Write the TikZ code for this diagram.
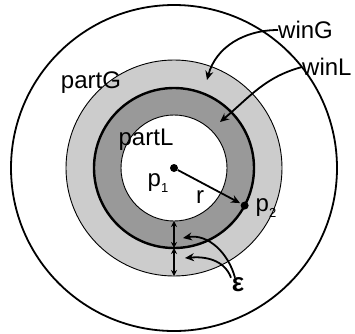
\documentclass[tikz,border=0pt]{standalone}
\usepackage{fontspec}
\setmainfont{Liberation Sans}
\usetikzlibrary{arrows.meta}
\definecolor{winGgray}{RGB}{204,204,204}
\definecolor{winLgray}{RGB}{153,153,153}
\tikzset{%
  lbl/.style={inner sep=0pt, font=\fontsize{24}{28}\selectfont},
  pt/.style={circle, fill=black, inner sep=0pt, minimum size=8pt},
  pointer/.style={-{Stealth[length=9pt,width=8pt]}, line width=1.8pt},
  epsarrow/.style={{Stealth[length=6pt,width=6pt]}-{Stealth[length=6pt,width=6pt]}, line width=1.6pt},
}

\begin{document}
\begin{tikzpicture}[x=1pt, y=1pt]
\useasboundingbox (-174,-165) rectangle (181,168);

% Outer circle
\draw[line width=1.8pt] (0,0) circle (163);

% Window of the global partition
\filldraw[fill=winGgray, draw=black, line width=0.9pt] (0,0) circle (108);

% Window of the local partition, thick border
\filldraw[fill=winLgray, draw=black, line width=2.4pt] (0,0) circle (80);

% Local partition
\filldraw[fill=white, draw=black, line width=0.9pt] (0,0) circle (53);

% Points and radius
\node[pt] (P1) at (0,0) {};
\node[pt] (P2) at (-28:80) {};
\draw[pointer, shorten >=1pt] (P1) -- (P2);

% Labels
\node[lbl] (partG) at (-83,85) {partG};
\node[lbl] (partL) at (-28,28) {partL};
\node[lbl] (p1) at (-16,-15) {p\raisebox{-6pt}{\fontsize{13}{14}\selectfont 1}};
\node[lbl] (r) at (26,-29) {r};
\node[lbl] (p2) at (92,-40) {p\raisebox{-6pt}{\fontsize{13}{14}\selectfont 2}};
\node[lbl, font=\fontsize{26}{28}\selectfont\bfseries] (eps) at (64,-117) {ε};
\node[lbl, anchor=west] (winG) at (104,138) {winG};
\node[lbl, anchor=west] (winL) at (128,101) {winL};

% Arrows to the windows
\coordinate (gEnd) at (33,88);
\coordinate (lEnd) at (46,46);
\draw[pointer] (winG.west) to[out=180, in=75] (gEnd);
\draw[pointer] (winL.west) to[out=195, in=40] (lEnd);

% Widths of the windows
\coordinate (c1) at (0,-53);
\coordinate (c2) at (0,-80);
\coordinate (c3) at (0,-108);
\draw[epsarrow] (c1) -- (c2);
\draw[epsarrow] (c2) -- (c3);

% Arrows from epsilon
\coordinate (e1) at (9,-70);
\coordinate (e2) at (11,-90);
\draw[pointer] ([xshift=-3pt]eps.north) to[out=105, in=10] (e1);
\draw[pointer] ([xshift=-7pt]eps.north) to[out=110, in=5] (e2);

\end{tikzpicture}
\end{document}
